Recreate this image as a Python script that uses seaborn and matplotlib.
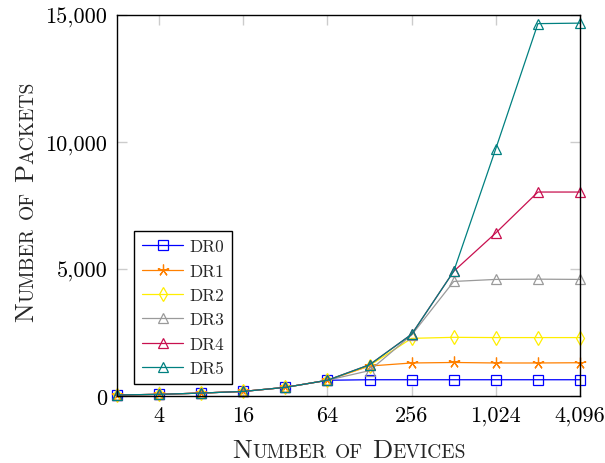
import matplotlib
matplotlib.use("Agg")
import matplotlib.pyplot as plt
from matplotlib.ticker import FixedLocator, FixedFormatter, NullLocator
from matplotlib.transforms import IdentityTransform
import seaborn as sns
import pandas as pd

# Devices per run and packets received for each data rate
devices = [2, 4, 8, 16, 32, 64, 128, 256, 512, 1024, 2048, 4096]
dr0 = [40, 65, 115, 180, 340, 620, 640, 640, 640, 640, 640, 640]
dr1 = [40, 65, 115, 180, 340, 620, 1180, 1300, 1320, 1300, 1300, 1310]
dr2 = [40, 65, 115, 180, 340, 620, 1200, 2270, 2310, 2300, 2300, 2300]
dr3 = [40, 65, 115, 180, 340, 620, 1000, 2400, 4510, 4590, 4600, 4590]
dr4 = [40, 65, 115, 180, 340, 620, 1230, 2430, 4910, 6420, 8030, 8030]
dr5 = [40, 65, 115, 180, 340, 620, 1230, 2430, 4910, 9740, 14660, 14680]

series_names = ["DR0", "DR1", "DR2", "DR3", "DR4", "DR5"]
series_values = [dr0, dr1, dr2, dr3, dr4, dr5]

x_ticks = [4, 16, 64, 256, 1024, 4096]
x_tick_labels = ["4", "16", "64", "256", "1,024", "4,096"]
y_ticks = [0, 5000, 10000, 15000]
y_tick_labels = ["0", "5,000", "10,000", "15,000"]

colors = ["#0000ff", "#ff8000", "#ffee00", "#9a9a9a", "#c8104f", "#008080"]
markers = ["s", (5, 2, 0), "d", "^", "^", "^"]
msizes = [7.5, 8.5, 7.5, 7.5, 7.5, 7.5]

sns.set_style("white")
plt.rcParams["font.family"] = ["cmr10", "DejaVu Serif"]
plt.rcParams["axes.formatter.use_mathtext"] = True

fig = plt.figure(figsize=(6.05, 4.64), dpi=100)
ax = fig.add_axes([117 / 605, 1 - 397 / 464, (580 - 117) / 605, (397 - 16) / 464])

for name, vals, c, m, ms in zip(series_names, series_values, colors, markers, msizes):
    df = pd.DataFrame({"devices": devices, "packets": vals})
    sns.lineplot(data=df, x="devices", y="packets", ax=ax, label=name,
                 color=c, linewidth=0.9, marker=m, markersize=ms,
                 markerfacecolor="none", markeredgecolor=c,
                 markeredgewidth=0.9, errorbar=None, clip_on=False)

ax.set_xscale("log", base=2)
ax.set_xlim(2, 4096)
ax.set_ylim(0, 15000)
ax.xaxis.set_major_locator(FixedLocator(x_ticks))
ax.xaxis.set_major_formatter(FixedFormatter(x_tick_labels))
ax.xaxis.set_minor_locator(NullLocator())
ax.yaxis.set_major_locator(FixedLocator(y_ticks))
ax.yaxis.set_major_formatter(FixedFormatter(y_tick_labels))
ax.yaxis.set_minor_locator(NullLocator())

ax.tick_params(axis="both", which="major", direction="in", length=7, width=1,
               color="#cccccc", labelcolor="black", labelsize=16,
               top=True, right=True, bottom=True, left=True)
ax.tick_params(axis="x", pad=7)
ax.tick_params(axis="y", pad=7)
for sp in ax.spines.values():
    sp.set_color("black")
    sp.set_linewidth(1.0)
    sp.set_visible(True)

ax.set_xlabel("")
ax.set_ylabel("")

leg = ax.legend(loc="lower left", bbox_to_anchor=((134 - 117) / 463, 12 / 381),
                borderaxespad=0, fontsize=12.5, frameon=True, fancybox=False,
                edgecolor="black", framealpha=1, handlelength=2.4,
                handletextpad=0.35, labelspacing=0.52, borderpad=0.45)
leg.get_frame().set_linewidth(1.0)


def small_caps(parts, cx, cy, size, ratio=0.74, rotation=0):
    """Draw text in small capitals, centred on (cx, cy) in pixels."""
    r = fig.canvas.get_renderer()

    def advance(s, fs):
        t = fig.text(0, 0, s, fontsize=fs, transform=IdentityTransform())
        w = t.get_window_extent(r).width
        t.remove()
        return w

    pieces = []
    for s, small in parts:
        fs = size * ratio if small else size
        if s == " ":
            w = advance("x x", fs) - advance("xx", fs)
        else:
            w = advance(s, fs)
        pieces.append((s, fs, w))
    pos = -sum(p[2] for p in pieces) / 2
    for s, fs, w in pieces:
        if s != " ":
            if rotation == 0:
                fig.text(cx + pos, cy, s, fontsize=fs, transform=IdentityTransform(),
                         ha="left", va="baseline")
            else:
                fig.text(cx, cy + pos, s, fontsize=fs, transform=IdentityTransform(),
                         rotation=90, rotation_mode="anchor", ha="left", va="baseline")
        pos += w


fig.canvas.draw()
small_caps([("N", False), ("UMBER", True), (" ", False), ("OF", True), (" ", False),
            ("D", False), ("EVICES", True)], 349, 464 - 458, 19)
small_caps([("N", False), ("UMBER", True), (" ", False), ("OF", True), (" ", False),
            ("P", False), ("ACKETS", True)], 33, 464 - 202, 19, rotation=90)

fig.savefig("out.png", dpi=100)
